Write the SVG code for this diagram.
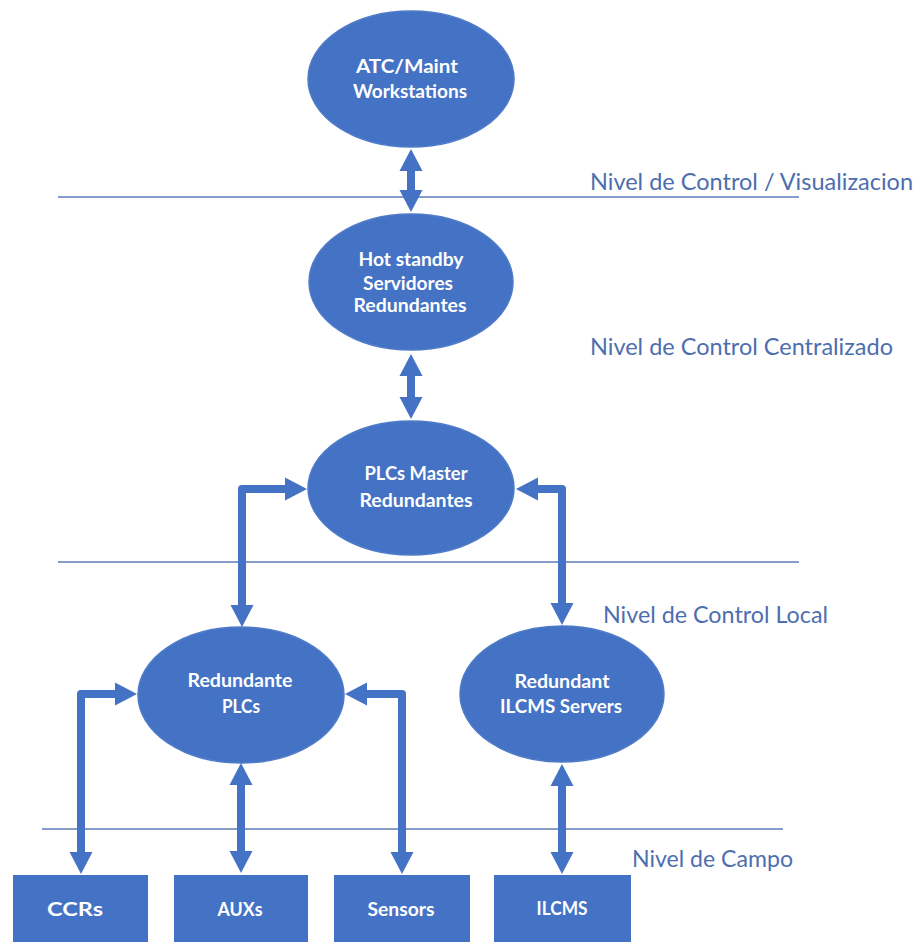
<svg xmlns="http://www.w3.org/2000/svg" width="918" height="942" viewBox="0 0 918 942">
  <defs>
    <style>
      .node { fill: #4472C4; stroke: #4f7bc8; stroke-width: 1.5; }
      .box { fill: #4472C4; }
      .nt { font-family: Lato, "Open Sans", "Liberation Sans", sans-serif; font-weight: bold; font-size: 19px; fill: #ffffff; text-anchor: middle; }
      .lvl { font-family: Lato, "Open Sans", "Liberation Sans", sans-serif; font-size: 24px; fill: #4d6eaf; }
      .sep { stroke: #5b7dba; stroke-width: 1.4; fill: none; }
      .link { stroke: #4472C4; stroke-width: 8; fill: none; stroke-linejoin: round; stroke-linecap: butt; marker-start: url(#head); marker-end: url(#head); }
    </style>
    <marker id="head" markerUnits="userSpaceOnUse" markerWidth="30" markerHeight="30" refX="1" refY="11.5" orient="auto-start-reverse" overflow="visible">
      <path d="M0,0 L22,11.5 L0,23 Z" fill="#4472C4"/>
    </marker>
  </defs>

  <rect width="918" height="942" fill="#ffffff"/>

  <!-- level separators and their captions -->
  <g id="levels">
    <line class="sep" x1="58" y1="197" x2="799" y2="197"/>
    <line class="sep" x1="58" y1="562" x2="799" y2="562"/>
    <line class="sep" x1="42" y1="829" x2="783" y2="829"/>
    <text class="lvl" x="590" y="190" textLength="323" lengthAdjust="spacingAndGlyphs">Nivel de Control / Visualizacion</text>
    <text class="lvl" x="590" y="355" textLength="303" lengthAdjust="spacingAndGlyphs">Nivel de Control Centralizado</text>
    <text class="lvl" x="603" y="623" textLength="225" lengthAdjust="spacingAndGlyphs">Nivel de Control Local</text>
    <text class="lvl" x="632" y="867" textLength="161" lengthAdjust="spacingAndGlyphs">Nivel de Campo</text>
  </g>

  <!-- connectors (double-headed) -->
  <g id="connectors">
    <path class="link" d="M411,170 L411,191"/>
    <path class="link" d="M411,375 L411,398"/>
    <path class="link" d="M286,489 L242,489 L242,606"/>
    <path class="link" d="M537,489 L562,489 L562,604"/>
    <path class="link" d="M81,853 L81,694 L116,694"/>
    <path class="link" d="M241,784 L241,852"/>
    <path class="link" d="M402,853 L402,694 L366,694"/>
    <path class="link" d="M562,785 L562,853"/>
  </g>

  <g id="atc">
    <ellipse class="node" cx="411" cy="79" rx="103" ry="68"/>
    <text class="nt" x="407" y="73" textLength="102" lengthAdjust="spacingAndGlyphs">ATC/Maint</text>
    <text class="nt" x="410" y="98" textLength="114" lengthAdjust="spacingAndGlyphs">Workstations</text>
  </g>

  <g id="servers">
    <ellipse class="node" cx="411" cy="282" rx="102" ry="68"/>
    <text class="nt" x="411" y="266" textLength="105" lengthAdjust="spacingAndGlyphs">Hot standby</text>
    <text class="nt" x="408" y="290" textLength="90" lengthAdjust="spacingAndGlyphs">Servidores</text>
    <text class="nt" x="410" y="312" textLength="113" lengthAdjust="spacingAndGlyphs">Redundantes</text>
  </g>

  <g id="plc-master">
    <ellipse class="node" cx="411" cy="488" rx="103" ry="67"/>
    <text class="nt" x="416" y="480" textLength="103" lengthAdjust="spacingAndGlyphs">PLCs Master</text>
    <text class="nt" x="416" y="507" textLength="113" lengthAdjust="spacingAndGlyphs">Redundantes</text>
  </g>

  <g id="plc-local">
    <ellipse class="node" cx="241" cy="695" rx="103" ry="68"/>
    <text class="nt" x="240" y="687" textLength="105" lengthAdjust="spacingAndGlyphs">Redundante</text>
    <text class="nt" x="241" y="713" textLength="38" lengthAdjust="spacingAndGlyphs">PLCs</text>
  </g>

  <g id="ilcms-servers">
    <ellipse class="node" cx="562" cy="694" rx="102" ry="68"/>
    <text class="nt" x="562" y="688" textLength="95" lengthAdjust="spacingAndGlyphs">Redundant</text>
    <text class="nt" x="561" y="713" textLength="122" lengthAdjust="spacingAndGlyphs">ILCMS Servers</text>
  </g>

  <g id="ccrs">
    <rect class="box" x="13" y="875" width="135" height="70"/>
    <text class="nt" x="75" y="916" textLength="56" lengthAdjust="spacingAndGlyphs">CCRs</text>
  </g>

  <g id="auxs">
    <rect class="box" x="174" y="875" width="134" height="70"/>
    <text class="nt" x="240" y="916" textLength="45" lengthAdjust="spacingAndGlyphs">AUXs</text>
  </g>

  <g id="sensors">
    <rect class="box" x="334" y="875" width="136" height="70"/>
    <text class="nt" x="401" y="916" textLength="67" lengthAdjust="spacingAndGlyphs">Sensors</text>
  </g>

  <g id="ilcms">
    <rect class="box" x="494" y="875" width="137" height="70"/>
    <text class="nt" x="562" y="915" textLength="51" lengthAdjust="spacingAndGlyphs">ILCMS</text>
  </g>
</svg>
